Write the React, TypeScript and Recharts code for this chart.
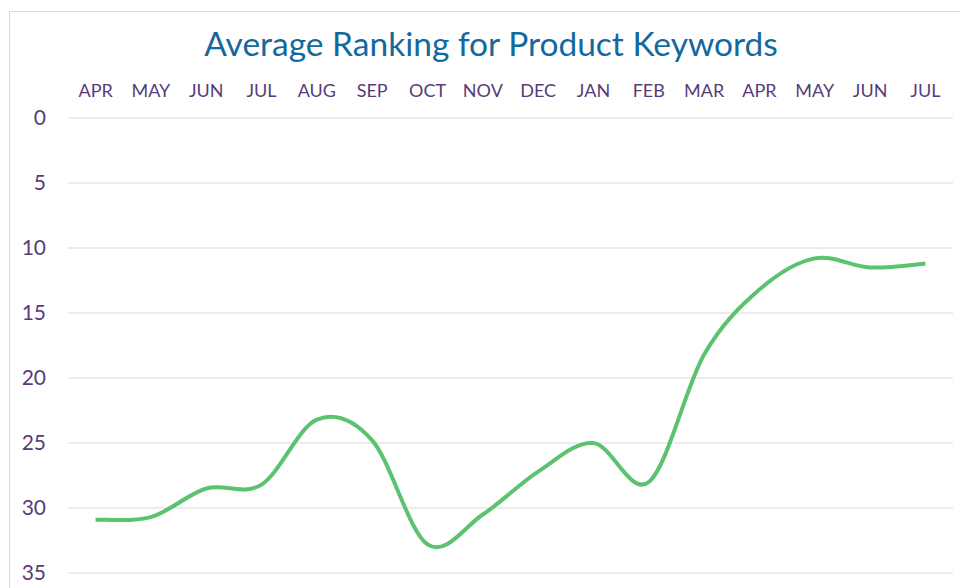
import React from "react";
import { LineChart, Line, XAxis, YAxis, CartesianGrid } from "recharts";

const months = ["APR", "MAY", "JUN", "JUL", "AUG", "SEP", "OCT", "NOV", "DEC", "JAN", "FEB", "MAR", "APR", "MAY", "JUN", "JUL"];
const ranking = [30.9, 30.7, 28.5, 28.2, 23.2, 24.8, 32.8, 30.5, 27.2, 25.0, 28.0, 18.2, 13.2, 10.8, 11.5, 11.2];
const yTicks = [0, 5, 10, 15, 20, 25, 30, 35];
const title = "Average Ranking for Product Keywords";

const data = months.map((m, i) => ({ key: `${m}-${i}`, month: m, ranking: ranking[i] }));

// Excel-style smoothed line (Catmull-Rom style Bezier)
const excelCurve = (context: any) => {
  let pts: number[][] = [];
  return {
    areaStart() {},
    areaEnd() {},
    lineStart() {
      pts = [];
    },
    lineEnd() {
      const n = pts.length;
      if (n === 0) return;
      context.moveTo(pts[0][0], pts[0][1]);
      if (n === 1) return;
      for (let i = 0; i < n - 1; i++) {
        const p0 = pts[i - 1] || pts[i];
        const p1 = pts[i];
        const p2 = pts[i + 1];
        const p3 = pts[i + 2] || pts[i + 1];
        const c1x = p1[0] + (p2[0] - p0[0]) / 6;
        const c1y = p1[1] + (p2[1] - p0[1]) / 6;
        const c2x = p2[0] - (p3[0] - p1[0]) / 6;
        const c2y = p2[1] - (p3[1] - p1[1]) / 6;
        context.bezierCurveTo(c1x, c1y, c2x, c2y, p2[0], p2[1]);
      }
    },
    point(x: number, y: number) {
      pts.push([+x, +y]);
    },
  };
};

const FONT = "Lato, 'Open Sans', sans-serif";

export default function App() {
  return (
    <div style={{ position: "fixed", left: 0, top: 0, width: 960, height: 588, overflow: "hidden", background: "#fff" }}>
      <div
        style={{
          position: "absolute",
          left: 9,
          top: 11,
          width: 1000,
          height: 700,
          border: "1px solid #D9D9D9",
          boxSizing: "border-box",
        }}
      />
      <div
        style={{
          position: "absolute",
          left: 0,
          top: 23,
          width: 982,
          textAlign: "center",
          fontFamily: FONT,
          fontSize: 33.5,
          color: "#13689E",
          lineHeight: "40px",
          whiteSpace: "nowrap",
        }}
      >
        {title}
      </div>
      <div style={{ position: "absolute", left: 0, top: 0 }}>
        <LineChart
          width={960}
          height={588}
          data={data}
          margin={{ top: 88, right: 7, bottom: 15, left: 28 }}
        >
          <CartesianGrid vertical={false} stroke="#D9D9D9" strokeWidth={1} />
          <XAxis
            dataKey="key"
            orientation="top"
            height={30}
            axisLine={false}
            tickLine={false}
            tickSize={0}
            tickMargin={21}
            interval={0}
            padding={{ left: 27.6, right: 27.6 }}
            tickFormatter={(v: string) => v.split("-")[0]}
            tick={{ fill: "#583C78", fontSize: 18, fontFamily: FONT }}
          />
          <YAxis
            reversed
            domain={[0, 35]}
            ticks={yTicks}
            width={40}
            axisLine={false}
            tickLine={false}
            tickSize={0}
            tickMargin={22}
            interval={0}
            tick={{ fill: "#583C78", fontSize: 21, fontFamily: FONT }}
          />
          <Line
            dataKey="ranking"
            type={excelCurve as any}
            stroke="#5BC26F"
            strokeWidth={4}
            dot={false}
            activeDot={false}
            isAnimationActive={false}
          />
        </LineChart>
      </div>
    </div>
  );
}
